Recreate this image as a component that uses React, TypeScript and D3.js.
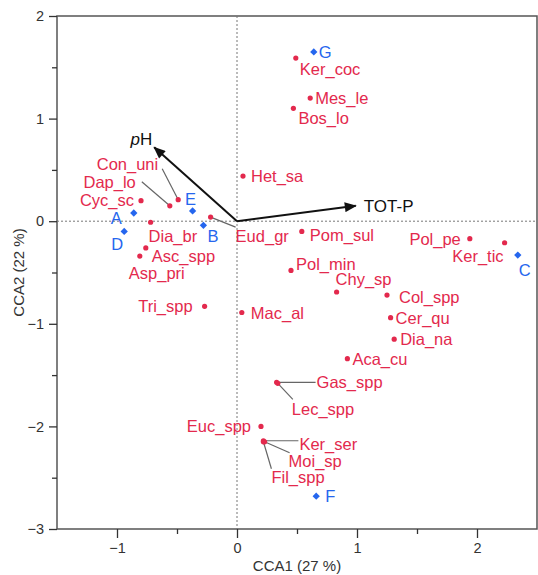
import React, { useEffect, useRef } from "react";
import * as d3 from "d3";

// species scores
const speciesNames = [
  "Ker_coc", "Mes_le", "Bos_lo", "Het_sa", "Con_uni", "Dap_lo", "Cyc_sc",
  "Dia_br", "Eud_gr", "Asc_spp", "Asp_pri", "Pom_sul", "Pol_pe", "Ker_tic",
  "Pol_min", "Chy_sp", "Col_spp", "Cer_qu", "Dia_na", "Aca_cu", "Gas_spp",
  "Lec_spp", "Tri_spp", "Mac_al", "Euc_spp", "Ker_ser", "Moi_sp", "Fil_spp",
];
const speciesCCA1 = [
  0.49, 0.61, 0.47, 0.05, -0.49, -0.56, -0.80, -0.72, -0.22, -0.76, -0.81,
  0.54, 1.94, 2.23, 0.45, 0.83, 1.25, 1.28, 1.31, 0.92, 0.33, 0.34, -0.27,
  0.04, 0.20, 0.22, 0.23, 0.22,
];
const speciesCCA2 = [
  1.59, 1.20, 1.10, 0.44, 0.21, 0.15, 0.20, -0.01, 0.04, -0.26, -0.34,
  -0.10, -0.17, -0.21, -0.48, -0.69, -0.72, -0.94, -1.15, -1.34, -1.57,
  -1.58, -0.83, -0.89, -2.00, -2.14, -2.15, -2.15,
];

// site scores
const siteNames = ["A", "B", "C", "D", "E", "F", "G"];
const siteCCA1 = [-0.86, -0.28, 2.34, -0.94, -0.37, 0.66, 0.64];
const siteCCA2 = [0.08, -0.04, -0.33, -0.10, 0.10, -2.68, 1.65];

// environmental vectors
const envNames = ["pH", "TOT-P"];
const envCCA1 = [-0.69, 0.99];
const envCCA2 = [0.72, 0.15];

const xTicks = [-1, 0, 1, 2];
const yTicks = [-3, -2, -1, 0, 1, 2];
const xMinorTicks = [-0.5, 0.5, 1.5];
const yMinorTicks = [-2.5, -1.5, -0.5, 0.5, 1.5];

// label placement (pixel offsets from the point), leader line end offsets
const labelPos: Record<string, [number, number, string, number[]?]> = {
  Ker_coc: [4, 11, "start"],
  Mes_le: [5, 0, "start"],
  Bos_lo: [5, 10, "start"],
  Het_sa: [8, 0, "start"],
  Con_uni: [-20, -36, "end", [-16, -31]],
  Dap_lo: [-34, -24, "end", [-28, -24]],
  Cyc_sc: [-7, -1, "end"],
  Dia_br: [-2, 14, "start"],
  Eud_gr: [25, 19, "start", [25, 10]],
  Asc_spp: [6, 8, "start"],
  Asp_pri: [17, 17, "middle"],
  Pom_sul: [8, 4, "start"],
  Pol_pe: [-9, 0, "end"],
  Ker_tic: [-1, 13, "end"],
  Pol_min: [5, -6, "start"],
  Chy_sp: [-1, -13, "start"],
  Col_spp: [12, 2, "start"],
  Cer_qu: [5, 0, "start"],
  Dia_na: [6, 0, "start"],
  Aca_cu: [5, 0, "start"],
  Gas_spp: [40, 0, "start", [39, 0]],
  Lec_spp: [14, 26, "start", [15, 16]],
  Tri_spp: [-12, 0, "end"],
  Mac_al: [9, 0, "start"],
  Euc_spp: [-10, 0, "end"],
  Ker_ser: [36, 3, "start", [35, 0]],
  Moi_sp: [24, 19, "start", [25, 11]],
  Fil_spp: [8, 35, "start", [8, 27]],
  A: [-12, 5, "end"],
  B: [4, 11, "start"],
  C: [1, 15, "start"],
  D: [-1, 13, "end"],
  E: [-2, -12, "middle"],
  F: [9, 0, "start"],
  G: [5, 0, "start"],
};

const RED = "#e3294d";
const BLUE = "#2566ee";
const FONT = "'Liberation Sans', Arial, Helvetica, sans-serif";

const App = () => {
  const chartRef = useRef<HTMLDivElement>(null);

  useEffect(() => {
    const width = 538;
    const height = 575;
    const margin = { top: 16, right: 1, bottom: 46, left: 57 };

    d3.select(chartRef.current).selectAll("*").remove();

    const svg = d3
      .select(chartRef.current)
      .append("svg")
      .attr("width", width)
      .attr("height", height)
      .style("position", "absolute")
      .style("left", "0px")
      .style("top", "0px")
      .style("font-family", FONT);

    const x = d3
      .scaleLinear()
      .domain([-1.5, 2.5])
      .range([margin.left, width - margin.right]);
    const y = d3
      .scaleLinear()
      .domain([-3, 2])
      .range([height - margin.bottom, margin.top]);

    // frame
    svg
      .append("rect")
      .attr("x", x(-1.5))
      .attr("y", y(2))
      .attr("width", x(2.5) - x(-1.5))
      .attr("height", y(-3) - y(2))
      .attr("fill", "none")
      .attr("stroke", "#555")
      .attr("stroke-width", 1.5);

    // axes
    const styleAxis = (g: any, labels: boolean) => {
      g.select(".domain").remove();
      g.selectAll(".tick line").attr("stroke", "#333").attr("stroke-width", 1.3);
      if (labels) {
        g.selectAll(".tick text")
          .attr("fill", "#333")
          .style("font-size", "14.5px")
          .style("font-family", FONT);
      }
    };

    svg
      .append("g")
      .attr("transform", `translate(${x(-1.5)},0)`)
      .call(d3.axisLeft(y).tickValues(yTicks).tickSize(8).tickPadding(5).tickFormat(d3.format("d")))
      .call((g: any) => styleAxis(g, true));
    svg
      .append("g")
      .attr("transform", `translate(${x(-1.5)},0)`)
      .call(d3.axisLeft(y).tickValues(yMinorTicks).tickSize(5).tickFormat(() => ""))
      .call((g: any) => styleAxis(g, false));
    svg
      .append("g")
      .attr("transform", `translate(0,${y(-3)})`)
      .call(d3.axisBottom(x).tickValues(xTicks).tickSize(9).tickPadding(5).tickFormat(d3.format("d")))
      .call((g: any) => styleAxis(g, true));
    svg
      .append("g")
      .attr("transform", `translate(0,${y(-3)})`)
      .call(d3.axisBottom(x).tickValues(xMinorTicks).tickSize(5).tickFormat(() => ""))
      .call((g: any) => styleAxis(g, false));

    // axis titles
    svg
      .append("text")
      .attr("x", (x(-1.5) + x(2.5)) / 2)
      .attr("y", 571)
      .attr("text-anchor", "middle")
      .attr("fill", "#333")
      .style("font-size", "15px")
      .text("CCA1 (27 %)");
    svg
      .append("text")
      .attr("transform", `translate(24,${(y(2) + y(-3)) / 2}) rotate(-90)`)
      .attr("text-anchor", "middle")
      .attr("fill", "#333")
      .style("font-size", "15px")
      .text("CCA2 (22 %)");

    // reference lines at 0
    svg
      .append("line")
      .attr("x1", x(0))
      .attr("x2", x(0))
      .attr("y1", y(2))
      .attr("y2", y(-3))
      .attr("stroke", "#777")
      .attr("stroke-width", 1)
      .attr("stroke-dasharray", "2,2");
    svg
      .append("line")
      .attr("x1", x(-1.5))
      .attr("x2", x(2.5))
      .attr("y1", y(0))
      .attr("y2", y(0))
      .attr("stroke", "#777")
      .attr("stroke-width", 1)
      .attr("stroke-dasharray", "2,2");

    // environmental arrows
    svg
      .append("defs")
      .append("marker")
      .attr("id", "arrowhead")
      .attr("viewBox", "0 0 12 10")
      .attr("refX", 11)
      .attr("refY", 5)
      .attr("markerWidth", 14)
      .attr("markerHeight", 10)
      .attr("markerUnits", "userSpaceOnUse")
      .attr("orient", "auto")
      .append("path")
      .attr("d", "M0,0 L12,5 L0,10 Z")
      .attr("fill", "#111");

    envNames.forEach((name, i) => {
      const tx = x(envCCA1[i]);
      const ty = y(envCCA2[i]);
      svg
        .append("line")
        .attr("x1", x(0))
        .attr("y1", y(0))
        .attr("x2", tx)
        .attr("y2", ty)
        .attr("stroke", "#111")
        .attr("stroke-width", 2)
        .attr("marker-end", "url(#arrowhead)");
      const t = svg
        .append("text")
        .attr("fill", "#111")
        .style("font-size", "17px");
      if (name === "pH") {
        t.attr("x", tx - 2).attr("y", ty - 2).attr("text-anchor", "end");
        t.append("tspan").style("font-style", "italic").text("p");
        t.append("tspan").text("H");
      } else {
        t.attr("x", tx + 8).attr("y", ty + 6).attr("text-anchor", "start").text(name);
      }
    });

    // leader lines
    const sp = speciesNames.map((n, i) => ({ n, px: x(speciesCCA1[i]), py: y(speciesCCA2[i]) }));
    svg
      .append("g")
      .selectAll("line")
      .data(sp.filter((d) => labelPos[d.n][3]))
      .join("line")
      .attr("x1", (d) => d.px)
      .attr("y1", (d) => d.py)
      .attr("x2", (d) => d.px + labelPos[d.n][3]![0])
      .attr("y2", (d) => d.py + labelPos[d.n][3]![1])
      .attr("stroke", "#666")
      .attr("stroke-width", 1.2);

    // species points
    svg
      .append("g")
      .selectAll("circle")
      .data(sp)
      .join("circle")
      .attr("cx", (d) => d.px)
      .attr("cy", (d) => d.py)
      .attr("r", 2.6)
      .attr("fill", RED);
    svg
      .append("g")
      .selectAll("text")
      .data(sp)
      .join("text")
      .attr("x", (d) => d.px + labelPos[d.n][0])
      .attr("y", (d) => d.py + labelPos[d.n][1])
      .attr("text-anchor", (d) => labelPos[d.n][2])
      .attr("dominant-baseline", "central")
      .attr("fill", RED)
      .style("font-size", "16.5px")
      .text((d) => d.n);

    // site points
    const st = siteNames.map((n, i) => ({ n, px: x(siteCCA1[i]), py: y(siteCCA2[i]) }));
    svg
      .append("g")
      .selectAll("path")
      .data(st)
      .join("path")
      .attr("transform", (d) => `translate(${d.px},${d.py})`)
      .attr("d", d3.symbol().type(d3.symbolDiamond2).size(34)())
      .attr("fill", BLUE);
    svg
      .append("g")
      .selectAll("text")
      .data(st)
      .join("text")
      .attr("x", (d) => d.px + labelPos[d.n][0])
      .attr("y", (d) => d.py + labelPos[d.n][1])
      .attr("text-anchor", (d) => labelPos[d.n][2])
      .attr("dominant-baseline", "central")
      .attr("fill", BLUE)
      .style("font-size", "16.5px")
      .text((d) => d.n);
  }, []);

  return <div ref={chartRef}></div>;
};

export default App;
